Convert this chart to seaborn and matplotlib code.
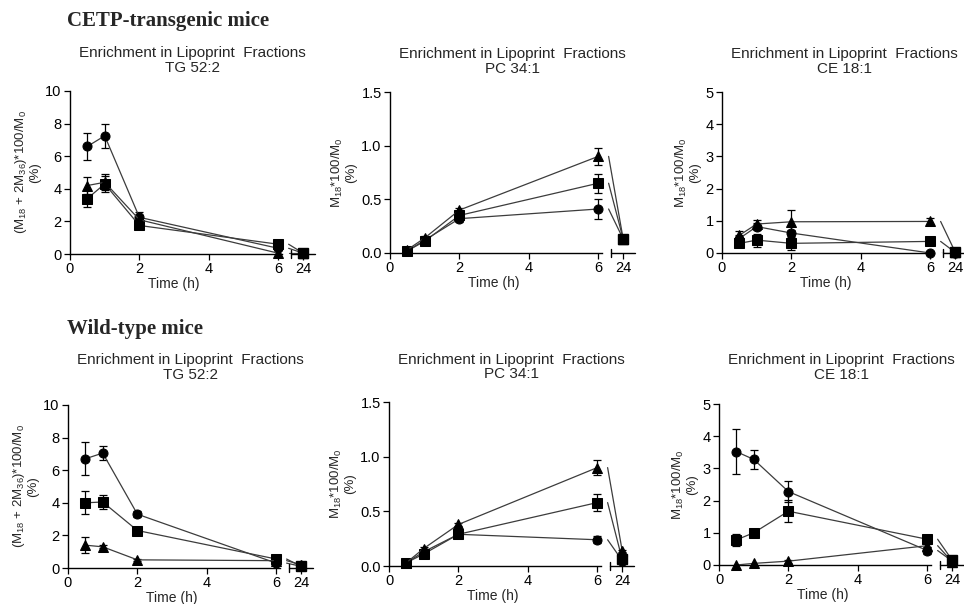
import matplotlib
matplotlib.use("Agg")
import matplotlib.pyplot as plt
import matplotlib.transforms as mtransforms
import pandas as pd
import seaborn as sns

# sampling times (h); the 24 h point sits after an axis break
TIMES = [0.5, 1, 2, 6, 24]
X_TICKS = [0, 2, 4, 6, 24]
SERIES = ["circle", "square", "triangle"]
MARKERS = {"circle": "o", "square": "s", "triangle": "^"}

# CETP-transgenic mice
cetp_tg_mean = {"circle": [6.6, 7.25, 2.25, 0.35, 0.05],
                "square": [3.4, 4.3, 1.75, 0.6, 0.05],
                "triangle": [4.2, 4.4, 2.1, 0.05, 0.05]}
cetp_tg_err = {"circle": [0.85, 0.75, 0.35, 0.1, 0],
               "square": [0.5, 0.5, 0.2, 0.15, 0],
               "triangle": [0.5, 0.5, 0.3, 0, 0]}
cetp_pc_mean = {"circle": [0.02, 0.12, 0.32, 0.41, 0.13],
                "square": [0.02, 0.11, 0.35, 0.65, 0.13],
                "triangle": [0.03, 0.14, 0.40, 0.90, 0.13]}
cetp_pc_err = {"circle": [0, 0.02, 0.03, 0.09, 0.01],
               "square": [0, 0.02, 0.03, 0.09, 0.01],
               "triangle": [0, 0.02, 0.02, 0.08, 0.01]}
cetp_ce_mean = {"circle": [0.45, 0.82, 0.62, 0.0, 0.0],
                "square": [0.3, 0.4, 0.3, 0.36, 0.02],
                "triangle": [0.55, 0.9, 0.97, 0.98, 0.03]}
cetp_ce_err = {"circle": [0.1, 0.1, 0.1, 0, 0],
               "square": [0.1, 0.2, 0.2, 0.03, 0],
               "triangle": [0.12, 0.12, 0.37, 0.12, 0]}

# wild-type mice
wt_tg_mean = {"circle": [6.7, 7.05, 3.3, 0.3, 0.1],
              "square": [4.0, 4.05, 2.3, 0.55, 0.1],
              "triangle": [1.4, 1.3, 0.5, 0.45, 0.2]}
wt_tg_err = {"circle": [1.0, 0.45, 0.2, 0.1, 0],
             "square": [0.7, 0.45, 0.1, 0.1, 0],
             "triangle": [0.5, 0.1, 0.05, 0.05, 0]}
wt_pc_mean = {"circle": [0.03, 0.13, 0.29, 0.24, 0.05],
              "square": [0.03, 0.11, 0.29, 0.58, 0.06],
              "triangle": [0.03, 0.16, 0.38, 0.90, 0.14]}
wt_pc_err = {"circle": [0, 0.01, 0.01, 0.03, 0.01],
             "square": [0, 0.01, 0.01, 0.08, 0.03],
             "triangle": [0, 0.01, 0.01, 0.07, 0.01]}
wt_ce_mean = {"circle": [3.52, 3.28, 2.28, 0.45, 0.12],
              "square": [0.78, 1.0, 1.67, 0.8, 0.15],
              "triangle": [0.0, 0.05, 0.12, 0.6, 0.1]}
wt_ce_err = {"circle": [0.7, 0.3, 0.33, 0.1, 0],
             "square": [0.18, 0.05, 0.35, 0.08, 0],
             "triangle": [0, 0, 0.05, 0.05, 0]}

TG_LABEL = "(M$_{18}$ + 2M$_{36}$)*100/M$_0$\n(%)"
M18_LABEL = "M$_{18}$*100/M$_0$\n(%)"

# axis-break geometry (in "display hours")
POS_24 = 6.72
BREAK_LINE = 6.3
MAIN_END = 6.1
SEG_START, SEG_END = 6.37, 7.05
LINE = "#3c3c3c"

sns.set_style("ticks")
plt.rcParams["font.family"] = ["Liberation Sans", "DejaVu Sans"]
plt.rcParams["mathtext.default"] = "regular"

W, H = 964, 604
fig = plt.figure(figsize=(W / 100, H / 100), dpi=100)


def xpos(t):
    return POS_24 if t == 24 else t


def draw_panel(box, means, errs, ymax, yticks, ylabel, subtitle, pad):
    left, top, bottom = box
    ax = fig.add_axes([left / W, 1 - bottom / H, SEG_END * 34.7 / W, (bottom - top) / H])

    rows = []
    for s in SERIES:
        for t, y in zip(TIMES[:4], means[s][:4]):
            rows.append({"x": t, "y": y, "series": s})
    df = pd.DataFrame(rows)
    sns.lineplot(data=df, x="x", y="y", style="series", markers=MARKERS, dashes=False,
                 color=LINE, lw=0.9, markersize=6.5, markerfacecolor="black",
                 markeredgecolor="black", legend=False, ax=ax, clip_on=False, zorder=3)

    for s in SERIES:
        xs = [xpos(t) for t, e in zip(TIMES, errs[s]) if e > 0]
        ys = [m for m, e in zip(means[s], errs[s]) if e > 0]
        es = [e for e in errs[s] if e > 0]
        ax.errorbar(xs, ys, yerr=es, fmt="none", ecolor="black", elinewidth=0.9,
                    capsize=3, capthick=0.9, clip_on=False, zorder=2)
        # line across the break, then the 24 h marker
        ax.plot([BREAK_LINE, POS_24], [means[s][3], means[s][4]], color=LINE, lw=0.9)
        ax.plot(POS_24, means[s][4], marker=MARKERS[s], color="black", ms=6.5,
                clip_on=False, zorder=4)

    ax.set_xlim(0, SEG_END)
    ax.set_ylim(0, ymax)
    ax.set_yticks(yticks)
    ax.set_xticks([xpos(t) for t in X_TICKS])
    ax.set_xticklabels([str(t) for t in X_TICKS])
    sns.despine(ax=ax)
    ax.spines["bottom"].set_bounds(0, MAIN_END)
    for sp in ("left", "bottom"):
        ax.spines[sp].set_linewidth(1.0)
        ax.spines[sp].set_color("black")
    trans = mtransforms.blended_transform_factory(ax.transData, ax.transAxes)
    ax.plot([SEG_START, SEG_END], [0, 0], color="black", lw=1.0, transform=trans, clip_on=False)
    ax.plot([SEG_START, SEG_START], [-0.025, 0.025], color="black", lw=1.0,
            transform=trans, clip_on=False)
    ax.tick_params(direction="out", length=4, width=0.9, labelsize=10.5, pad=2, colors="black")

    ax.set_xlabel("Time (h)", fontsize=10, labelpad=1)
    ax.xaxis.set_label_coords(3 / SEG_END, -0.14)
    ax.set_ylabel(ylabel, fontsize=9.5, linespacing=1.0, labelpad=3)
    ax.set_title("Enrichment in Lipoprint  Fractions\n" + subtitle, fontsize=11,
                 linespacing=1.05, pad=pad)
    return ax


draw_panel((70, 91, 254), cetp_tg_mean, cetp_tg_err, 10, [0, 2, 4, 6, 8, 10],
           TG_LABEL, "TG 52:2", 14)
draw_panel((390, 92, 253), cetp_pc_mean, cetp_pc_err, 1.5, [0.0, 0.5, 1.0, 1.5],
           M18_LABEL, "PC 34:1", 14)
draw_panel((722, 92, 253), cetp_ce_mean, cetp_ce_err, 5, [0, 1, 2, 3, 4, 5],
           M18_LABEL, "CE 18:1", 14)
draw_panel((68, 405, 568), wt_tg_mean, wt_tg_err, 10, [0, 2, 4, 6, 8, 10],
           TG_LABEL, "TG 52:2", 19)
draw_panel((389, 402, 566), wt_pc_mean, wt_pc_err, 1.5, [0.0, 0.5, 1.0, 1.5],
           M18_LABEL, "PC 34:1", 17)
draw_panel((719, 404, 565), wt_ce_mean, wt_ce_err, 5, [0, 1, 2, 3, 4, 5],
           M18_LABEL, "CE 18:1", 18)

fig.text(67 / W, 1 - 21 / H, "CETP-transgenic mice", family="Liberation Serif",
         weight="bold", fontsize=15, va="center", ha="left")
fig.text(67 / W, 1 - 329 / H, "Wild-type mice", family="Liberation Serif",
         weight="bold", fontsize=15, va="center", ha="left")

fig.savefig("out.png", dpi=100)
